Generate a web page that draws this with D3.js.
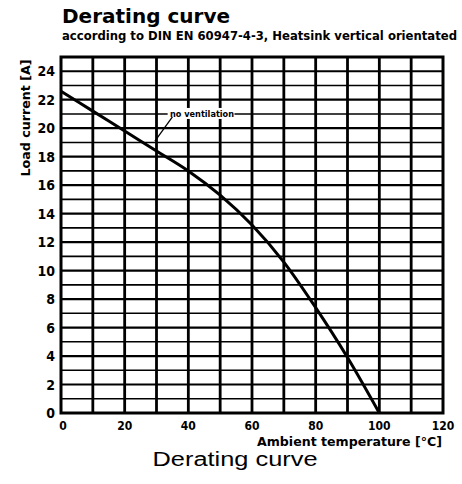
<!DOCTYPE html>
<html><head><meta charset="utf-8">
<script src="https://cdn.jsdelivr.net/npm/d3@7"></script>
<style>body{margin:0;background:#fff}svg{display:block}</style>
</head><body>
<script>
const temperature = [0, 10, 20, 30, 40, 50, 60, 70, 80, 90, 100];
const loadCurrent = [22.6, 21.2, 19.8, 18.4, 17.0, 15.3, 13.2, 10.6, 7.4, 3.9, 0];
const xTicks = [0, 20, 40, 60, 80, 100, 120];
const yTicks = [0, 2, 4, 6, 8, 10, 12, 14, 16, 18, 20, 22, 24];
const seriesLabel = "no ventilation";

const W = 462, H = 484;
const svg = d3.select("body").append("svg").attr("width", W).attr("height", H);
const x = d3.scaleLinear().domain([0, 120]).range([61, 443]);
const y = d3.scaleLinear().domain([0, 25]).range([413, 57]);
const boldF = "'DejaVu Sans Condensed','Liberation Sans Narrow','Liberation Sans',sans-serif";

// horizontal grid every 1 A
svg.append("g").selectAll("line").data(d3.range(1, 25)).join("line")
  .attr("x1", x(0)).attr("x2", x(120)).attr("y1", d => y(d)).attr("y2", d => y(d))
  .attr("stroke", "#000").attr("stroke-width", d => d % 2 === 0 ? 2.2 : 1.6);
// vertical grid every 10 °C
svg.append("g").selectAll("line").data(d3.range(10, 120, 10)).join("line")
  .attr("y1", y(0)).attr("y2", y(25)).attr("x1", d => x(d)).attr("x2", d => x(d))
  .attr("stroke", "#000").attr("stroke-width", 2.8);
// frame
svg.append("rect").attr("x", x(0)).attr("y", y(25)).attr("width", x(120) - x(0)).attr("height", y(0) - y(25))
  .attr("fill", "none").attr("stroke", "#000").attr("stroke-width", 3);

// curve
const line = d3.line().x((d, i) => x(temperature[i])).y(d => y(d)).curve(d3.curveCatmullRom);
svg.append("path").attr("d", line(loadCurrent)).attr("fill", "none").attr("stroke", "#000").attr("stroke-width", 3);

// annotation
const ax = x(44.3), ay = y(21);
svg.append("rect").attr("x", x(33.5)).attr("y", ay - 6).attr("width", x(54.5) - x(33.5)).attr("height", 11).attr("fill", "#fff");
svg.append("text").attr("x", ax).attr("y", ay + 3.5).attr("text-anchor", "middle")
  .attr("font-family", boldF).attr("font-weight", "bold").attr("font-size", 9)
  .attr("textLength", 64).attr("lengthAdjust", "spacingAndGlyphs").text(seriesLabel);
svg.append("line").attr("x1", x(35)).attr("y1", ay + 3).attr("x2", x(29.5)).attr("y2", y(19.1))
  .attr("stroke", "#000").attr("stroke-width", 1.3);

// y tick labels
svg.append("g").selectAll("text").data(yTicks).join("text")
  .attr("x", 55).attr("y", d => y(d) + 5).attr("text-anchor", "end")
  .attr("font-family", boldF).attr("font-weight", "bold").attr("font-size", 14)
  .text(d => d);
// x tick labels
svg.append("g").selectAll("text").data(xTicks).join("text")
  .attr("x", d => x(d) + (d === 0 ? 2 : 0)).attr("y", 430).attr("text-anchor", "middle")
  .attr("font-family", boldF).attr("font-weight", "bold").attr("font-size", 12)
  .text(d => d);

// axis titles
svg.append("text").attr("transform", "translate(30,118) rotate(-90)").attr("text-anchor", "middle")
  .attr("font-family", boldF).attr("font-weight", "bold").attr("font-size", 13)
  .attr("textLength", 117).attr("lengthAdjust", "spacingAndGlyphs").text("Load current [A]");
svg.append("text").attr("x", 442).attr("y", 446).attr("text-anchor", "end")
  .attr("font-family", boldF).attr("font-weight", "bold").attr("font-size", 13)
  .attr("textLength", 185).attr("lengthAdjust", "spacingAndGlyphs").text("Ambient temperature [°C]");

// titles
svg.append("text").attr("x", 62).attr("y", 23)
  .attr("font-family", "'DejaVu Sans',sans-serif").attr("font-weight", "bold").attr("font-size", 19)
  .attr("textLength", 168).attr("lengthAdjust", "spacingAndGlyphs").text("Derating curve");
svg.append("text").attr("x", 62).attr("y", 40)
  .attr("font-family", boldF).attr("font-weight", "bold").attr("font-size", 12.5)
  .attr("textLength", 395).attr("lengthAdjust", "spacingAndGlyphs").text("according to DIN EN 60947-4-3, Heatsink vertical orientated");

// caption
svg.append("text").attr("x", 235).attr("y", 466).attr("text-anchor", "middle")
  .attr("font-family", "'Liberation Sans',Arial,sans-serif").attr("font-size", 20)
  .attr("textLength", 165).attr("lengthAdjust", "spacingAndGlyphs")
  .text("Derating curve");
</script>
</body></html>
